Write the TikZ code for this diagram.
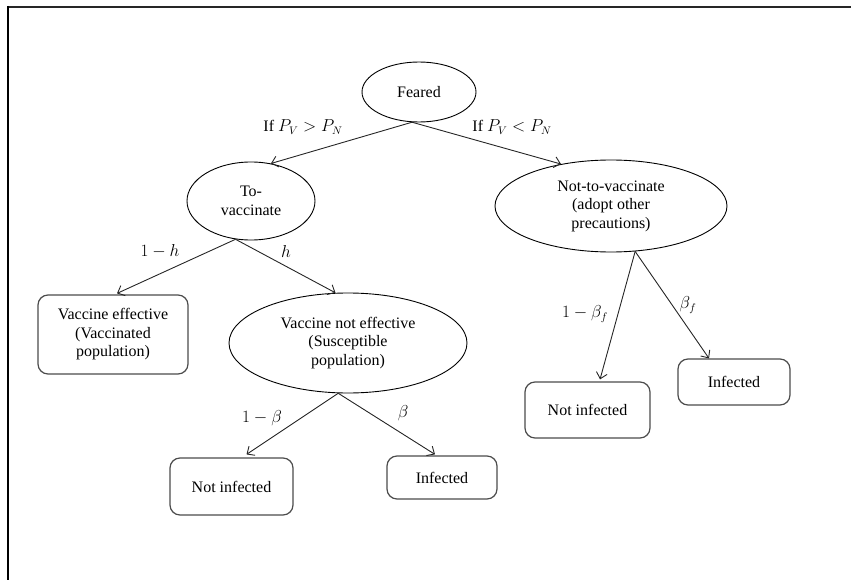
\documentclass[tikz,border=0pt]{standalone}
\usepackage{fontspec}
\setmainfont{Liberation Serif}
\usetikzlibrary{arrows.meta,shapes.geometric,calc}
\begin{document}
\begin{tikzpicture}[x=1pt,y=-1pt,
  every node/.style={font=\fontsize{16}{18.5}\selectfont},
  oval/.style={ellipse,draw=black,line width=0.9pt,inner sep=0pt,align=center},
  rbox/.style={draw=black!70,line width=1.2pt,rounded corners=10pt,inner sep=0pt,align=center},
  arr/.style={draw=black!85,line width=0.9pt,-{Straight Barb[length=6pt,width=11pt]}},
  lbl/.style={inner sep=0pt}
]
\useasboundingbox (0,0) rectangle (851,580);
% frame
\draw[line width=2.4pt,black!85] (8,7) -- (851,7);
\draw[line width=1.8pt,black] (8,6) -- (8,580);

% nodes
\node[oval,minimum width=114pt,minimum height=60pt] (feared) at (419,92) {Feared};
\node[oval,minimum width=128pt,minimum height=78pt] (tovac) at (251,201) {To-\\vaccinate};
\node[oval,minimum width=232pt,minimum height=92pt] (notvac) at (611,206) {Not-to-vaccinate\\(adopt other\\precautions)};
\node[rbox,minimum width=150pt,minimum height=79pt] (veff) at (113,334.5) {Vaccine effective\\(Vaccinated\\population)};
\node[oval,minimum width=238pt,minimum height=100pt] (vne) at (348,343) {Vaccine not effective\\(Susceptible\\population)};
\node[rbox,minimum width=123pt,minimum height=57pt] (ni1) at (231.5,486.5) {Not infected};
\node[rbox,minimum width=110pt,minimum height=43pt] (inf1) at (442,477.5) {Infected};
\node[rbox,minimum width=125pt,minimum height=56pt] (ni2) at (587.5,410) {Not infected};
\node[rbox,minimum width=112pt,minimum height=46pt] (inf2) at (734,382) {Infected};

% connectors
\draw[arr] (feared.-103) -- (tovac.62);
\draw[arr] (feared.-103) -- (notvac.140);
\draw[arr] (tovac.-112) -- ($(veff.north)+(4,-1)$);
\draw[arr] (tovac.-112) -- (vne.104);
\draw[arr] (vne.-101) -- ($(ni1.north)+(15,-3)$);
\draw[arr] (vne.-101) -- ($(inf1.north)+(-7,-1)$);
\draw[arr] (notvac.-62) -- ($(ni2.north)+(12.5,-2)$);
\draw[arr] (notvac.-62) -- ($(inf2.north)+(-25,0)$);

% labels
\node[lbl] (l1) at (303,127) {If $P_V > P_N$};
\node[lbl] (l2) at (512,127) {If $P_V < P_N$};
\node[lbl] (l3) at (160,251) {$1-h$};
\node[lbl] (l4) at (286,251) {$h$};
\node[lbl] (l5) at (262,418) {$1-\beta$};
\node[lbl] (l6) at (403,413) {$\beta$};
\node[lbl] (l7) at (585,314) {$1-\beta_f$};
\node[lbl] (l8) at (688,305) {$\beta_f$};
\end{tikzpicture}
\end{document}
